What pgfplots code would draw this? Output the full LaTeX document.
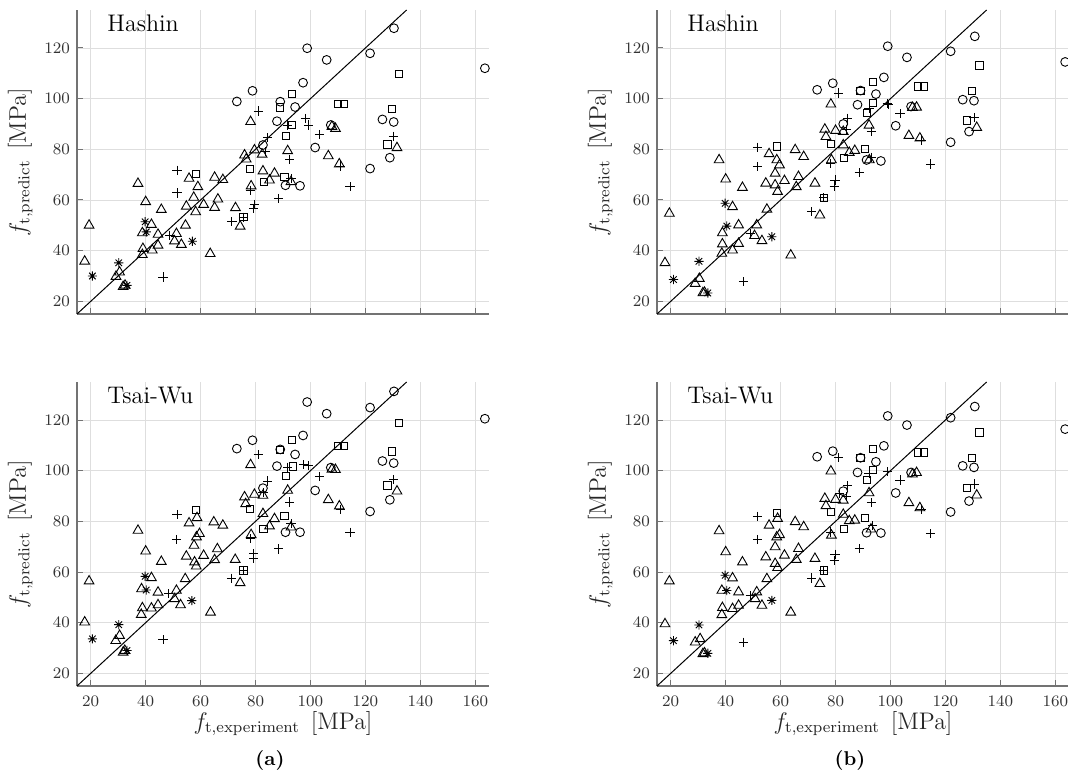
\documentclass[border=0pt]{standalone}
\usepackage{pgfplots}
\pgfplotsset{compat=1.18}

% MATLAB-like eight-arm asterisk
\pgfdeclareplotmark{ast8}{%
  \pgfpathmoveto{\pgfqpoint{0pt}{\pgfplotmarksize}}%
  \pgfpathlineto{\pgfqpoint{0pt}{-\pgfplotmarksize}}%
  \pgfpathmoveto{\pgfqpoint{\pgfplotmarksize}{0pt}}%
  \pgfpathlineto{\pgfqpoint{-\pgfplotmarksize}{0pt}}%
  \pgfpathmoveto{\pgfqpoint{.707\pgfplotmarksize}{.707\pgfplotmarksize}}%
  \pgfpathlineto{\pgfqpoint{-.707\pgfplotmarksize}{-.707\pgfplotmarksize}}%
  \pgfpathmoveto{\pgfqpoint{-.707\pgfplotmarksize}{.707\pgfplotmarksize}}%
  \pgfpathlineto{\pgfqpoint{.707\pgfplotmarksize}{-.707\pgfplotmarksize}}%
  \pgfusepathqstroke}

\tikzset{ttl/.style={anchor=base west, inner sep=0pt, font=\fontsize{12}{14}\selectfont}}
\pgfplotsset{
  panel/.style={
    scale only axis, width=206pt, height=152pt,
    xmin=15, xmax=165, ymin=15, ymax=135,
    axis lines*=left,
    axis line style={black!55, line width=0.6pt},
    xtick={20,40,...,160}, ytick={20,40,...,120},
    tick align=inside, major tick length=3pt,
    tick style={black!55, line width=0.5pt},
    grid=major, major grid style={black!13, line width=0.4pt},
    ticklabel style={font=\fontsize{8.5}{10}\selectfont, text=black!80},
    xticklabel style={yshift=-1.5pt},
    ylabel={$f_{\mathrm{t,predict}}\;\,[\mathrm{MPa}]$},
    ylabel style={at={(axis description cs:-0.107,0.5)}, anchor=south, inner sep=0pt,
      font=\fontsize{11.5}{13}\selectfont, text=black!85},
    xlabel style={at={(axis description cs:0.5,-0.082)}, anchor=north, inner sep=0pt,
      font=\fontsize{11.5}{13}\selectfont, text=black!85},
    clip=false,
  },
  mo/.style={only marks, black, mark=o, mark size=2.2pt, mark options={line width=0.45pt}},
  ms/.style={only marks, black, mark=square, mark size=1.8pt, mark options={line width=0.45pt}},
  mp/.style={only marks, black, mark=+, mark size=2.3pt, mark options={line width=0.45pt}},
  mt/.style={only marks, black, mark=triangle, mark size=2.8pt, mark options={line width=0.45pt}},
  ma/.style={only marks, black, mark=ast8, mark size=2.3pt, mark options={line width=0.45pt}},
  diag/.style={black, line width=0.5pt, no marks},
}

\begin{document}
\begin{tikzpicture}

% ---------- (a) Hashin ----------
\begin{axis}[panel, at={(38.5pt,231pt)}, anchor=south west, xticklabels={}]
\addplot[diag] coordinates {(15,15) (135,135)};
\addplot[mo] coordinates {
(73.2,98.9) (78.9,103.1) (82.7,81.7) (87.8,91.1) (89,98.8) (90.9,65.8) (94.4,96.7)
(96.2,65.6) (97.3,106.3) (98.8,119.9) (101.7,80.7) (105.9,115.3) (107.4,89.6)
(121.7,117.9) (121.7,72.4) (126.2,91.8) (128.9,76.7) (130.3,90.8) (130.4,127.8) (163.5,112)};
\addplot[ms] coordinates {
(58.4,70.2) (75.6,53.2) (78.1,72.2) (83,67.2) (89,96.5) (90.5,69.1) (91.2,85.2)
(93.3,101.8) (93.3,89.6) (109.9,98) (112.1,97.9) (128,81.9) (129.6,95.8) (132.1,109.7)};
\addplot[mp] coordinates {
(46.3,29.6) (48.7,46.1) (51.4,71.8) (51.4,62.8) (71.4,51.4) (75.6,53.2) (78.1,63.9)
(79.6,58.2) (79.4,56.7) (81,95.1) (83.6,79) (84.4,84.6) (88.5,60.6) (91.7,89.6)
(92.5,76.1) (92.9,68.5) (98.2,92.2) (99.3,89.6) (103.3,85.9) (110.9,73.4) (114.4,65.2) (130.2,85.2)};
\addplot[mt] coordinates {
(17.8,35.8) (19.4,50) (29.2,29.8) (30.5,31.5) (31.8,25.8) (32.5,26.3) (37.2,66.5)
(38.8,47) (38.8,38.4) (39,40.8) (40,59.3) (42.1,50.3) (42.4,40.2) (44.5,46.4) (44.5,42.1)
(45.7,56.2) (50.5,43.8) (51.2,46.7) (53,42.4) (54.5,50) (54.8,57.5) (55.8,68.5) (57.5,61)
(58.2,55.3) (59,65.2) (61.1,58.2) (63.5,38.8) (65.1,68.9) (65.1,57) (66.3,60.3) (68.1,68)
(72.7,56.9) (74.4,49.6) (76,77.7) (76.6,76.1) (78.2,90.9) (78.4,65.5) (79.6,79.7) (82.4,78)
(82.7,71.4) (85.1,67.8) (86.9,70.5) (91.7,79.4) (92.9,67.2) (106.5,77.4) (107.8,89)
(109.1,88.2) (110.5,74.2) (131.5,80.6)};
\addplot[ma] coordinates {
(20.6,30) (30.2,35.2) (33.2,26.3) (39.8,51.4) (40.2,47.4) (57,43.7)};
\node[ttl] at (rel axis cs:0.073,0.928) {Hashin};
\end{axis}

% ---------- (b) Hashin ----------
\begin{axis}[panel, at={(328.5pt,231pt)}, anchor=south west, xticklabels={}]
\addplot[diag] coordinates {(15,15) (135,135)};
\addplot[mo] coordinates {
(73.3,103.5) (79,106.1) (82.8,90) (88,97.6) (89.1,103.2) (91.3,75.8) (94.7,101.8)
(96.5,75.4) (97.6,108.4) (99,120.7) (101.9,89.3) (106,116.3) (107.5,96.9) (121.9,118.7)
(121.9,82.8) (126.3,99.6) (128.6,87) (130.4,99.2) (130.7,124.6) (163.6,114.5)};
\addplot[ms] coordinates {
(58.6,81.1) (75.7,60.9) (78.2,82) (83,76.5) (89.1,103.2) (90.8,80.2) (91.3,94.3)
(93.5,106.5) (93.7,98.2) (110.1,104.8) (112.2,104.8) (127.8,91.4) (129.8,103.1) (132.4,113.1)};
\addplot[mp] coordinates {
(46.5,27.7) (48.9,46.8) (51.6,80.8) (51.6,73.2) (71.3,55.4) (75.7,60.9) (78.2,74.5)
(79.8,67.9) (79.5,65.5) (81.2,102.2) (84,87.9) (84.4,92.3) (88.6,70.8) (92.2,96.3)
(93.1,87) (93.1,76.9) (98.8,98) (99.3,97.8) (103.5,94) (111.1,83.7) (114.6,74.2) (130.4,92.6)};
\addplot[mt] coordinates {
(17.9,35.2) (19.5,54.7) (28.9,27) (30.4,29) (31.7,23.3) (32.3,23.5) (37.6,75.8) (38.8,47)
(38.8,42.6) (38.6,38.9) (40,68.2) (42.5,57.3) (42.5,40.2) (44.7,50.1) (44.7,42.8) (46.1,64.9)
(50.5,45.9) (51.3,50.1) (53.2,43.9) (55,56.3) (54.6,66.6) (55.8,78.2) (58,70.5) (58,65.9)
(58.9,63.3) (58.6,75.8) (59.6,73.8) (61.4,67.6) (63.7,38.2) (65.3,79.8) (65.7,65.2) (66.5,69.2)
(68.4,77.1) (72.5,66.6) (74.3,54) (76.1,87.9) (76.5,85) (78.3,97.8) (78.5,75.8) (80,87.4)
(82.8,87) (82.8,81.7) (85,78.7) (87,79.5) (92.2,89.5) (92.3,75.8) (106.7,85.4) (108,96.5)
(109.5,96.6) (110.7,84.4) (131.4,88.6)};
\addplot[ma] coordinates {
(21,28.6) (30.3,35.8) (33.5,23.3) (39.8,58.7) (40.4,49.7) (56.8,45.5)};
\node[ttl] at (rel axis cs:0.073,0.928) {Hashin};
\end{axis}

% ---------- (a) Tsai-Wu ----------
\begin{axis}[panel, at={(38.5pt,45pt)}, anchor=south west,
  xlabel={$f_{\mathrm{t,experiment}}\;\,[\mathrm{MPa}]$}]
\addplot[diag] coordinates {(15,15) (135,135)};
\addplot[mo] coordinates {
(73.2,108.7) (78.9,112) (82.7,93.1) (87.8,101.8) (89,108.4) (90.9,75.7) (94.4,106.4)
(96.2,75.7) (97.3,113.9) (98.8,127.1) (101.7,92.2) (105.9,122.5) (107.4,101.2) (121.7,124.9)
(121.7,83.9) (126.2,103.8) (128.9,88.5) (130.3,103) (130.4,131.3) (163.5,120.5)};
\addplot[ms] coordinates {
(58.2,84.6) (75.6,60.6) (78.1,85) (82.9,77) (89,108.3) (90.5,82.1) (91.2,97.9)
(93.3,112.2) (93.6,101.7) (109.9,109.7) (112.1,109.7) (128,94.2) (129.6,107.6) (132.1,118.8)};
\addplot[mp] coordinates {
(46.3,33.2) (48.4,51.4) (51.4,82.7) (51.2,72.8) (71.2,57.5) (75.6,60.6) (78.1,73.1)
(79.4,67.2) (79.4,65.2) (81,106.3) (82.7,91.3) (84.4,95.9) (88.5,69.1) (91.7,101.4)
(92.5,87.6) (92.9,79) (97.6,102.3) (99.1,101.9) (103.3,97.7) (110.9,84.7) (114.4,75.7) (130.2,96.5)};
\addplot[mt] coordinates {
(17.8,40.2) (19.4,56.4) (29.1,32.9) (30.5,34.9) (31.8,28.3) (32.4,29) (37.2,76.4) (38.5,53.3)
(38.8,45.8) (38.4,43.2) (40,68.2) (42.1,57.7) (42.1,45.7) (44.5,52) (44.5,47) (45.7,64.1)
(50.5,49.4) (51.2,52.7) (52.7,47) (54.4,57.3) (54.8,66.2) (55.8,79.3) (57.6,70.5) (57.8,63.9)
(58.4,62.3) (58.7,81.4) (59.6,75.1) (58.5,73.8) (61.1,66.5) (63.6,44.1) (64.8,79.7) (65.1,64.8)
(66.1,69.1) (68.1,78.4) (72.6,64.9) (74.4,55.7) (76,89.6) (76.4,86.9) (78.2,102.3) (78.4,74.7)
(79.6,90.6) (82.7,90.2) (82.7,83) (85.1,78.1) (86.9,81) (91.7,92.2) (92.9,77.7) (106.5,88.5)
(107.8,100.5) (109.1,100.4) (110.5,86) (131.5,91.9)};
\addplot[ma] coordinates {
(20.6,33.6) (30.2,39.2) (33.2,29) (39.8,58.3) (40.2,52.9) (56.8,48.7)};
\node[ttl] at (rel axis cs:0.073,0.928) {Tsai-Wu};
\end{axis}

% ---------- (b) Tsai-Wu ----------
\begin{axis}[panel, at={(328.5pt,45pt)}, anchor=south west,
  xlabel={$f_{\mathrm{t,experiment}}\;\,[\mathrm{MPa}]$}]
\addplot[diag] coordinates {(15,15) (135,135)};
\addplot[mo] coordinates {
(73.3,105.5) (79,107.7) (82.8,91.9) (88,99.3) (89.1,105.1) (91.3,75.5) (94.7,103.5)
(96.5,75.4) (97.6,109.8) (99,121.6) (101.9,91.2) (106,118) (107.5,99.3) (121.9,120.9)
(121.9,83.7) (126.3,101.9) (128.6,88) (130.4,101.3) (130.7,125.3) (163.6,116.4)};
\addplot[ms] coordinates {
(58.6,83.3) (75.7,60.6) (78.2,83.7) (83,76.9) (89.1,105.1) (90.8,81.3) (91.3,96.3)
(93.5,108.5) (93.7,100.2) (110.1,107.2) (112.2,107.2) (127.8,93.2) (129.8,105.1) (132.4,115.1)};
\addplot[mp] coordinates {
(46.5,32.3) (48.9,50.7) (51.6,82) (51.6,72.8) (71.3,57.6) (75.7,60.6) (78.2,75.8)
(79.8,67) (79.5,64.6) (81.2,105.1) (81.3,91) (84,89.7) (84.4,94) (88.6,69.2) (92.2,98.9)
(93.1,87.3) (93.4,78.2) (98.8,99.6) (103.5,96.3) (111.1,84.6) (114.6,75.1) (130.4,94.7)};
\addplot[mt] coordinates {
(17.9,39.5) (19.5,56.4) (28.9,32.3) (30.7,33.6) (31.7,27.7) (32.3,28) (37.6,76.2) (38.6,52.7)
(38.8,45.9) (38.6,43.1) (40,67.9) (42.5,57.6) (42.5,45.5) (44.7,52.1) (44.7,46.8) (46.1,63.9)
(50.7,49.4) (51.3,52.1) (53.2,46.8) (55,57.3) (54.6,65.9) (55.8,78.4) (58,69.9) (58,63.3)
(58.9,61.7) (58.9,81.1) (58.6,73.8) (59.6,74.7) (61.4,66.6) (63.7,44.1) (65.3,79.8) (65.7,64.9)
(66.5,69.2) (68.4,77.8) (72.5,65.3) (74.3,55.4) (76.1,89) (76.5,86.1) (78.3,99.8) (78.5,74.5)
(80,88.6) (82.8,88.3) (82.8,82.7) (85,80.2) (87,80.4) (92.2,91.2) (92.9,76.9) (106.7,87.3)
(108,98.6) (109.5,99.2) (110.7,85.3) (131.4,90.3)};
\addplot[ma] coordinates {
(21,32.9) (30.3,39.1) (33.5,27.9) (39.8,58.7) (40.4,52.7) (56.8,48.8)};
\node[ttl] at (rel axis cs:0.073,0.928) {Tsai-Wu};
\end{axis}

\node[font=\bfseries\fontsize{10}{12}\selectfont] at (135pt,8pt) {(a)};
\node[font=\bfseries\fontsize{10}{12}\selectfont] at (425pt,8pt) {(b)};

\pgfresetboundingbox
\useasboundingbox (0,0) rectangle (534pt,388pt);
\end{tikzpicture}
\end{document}
